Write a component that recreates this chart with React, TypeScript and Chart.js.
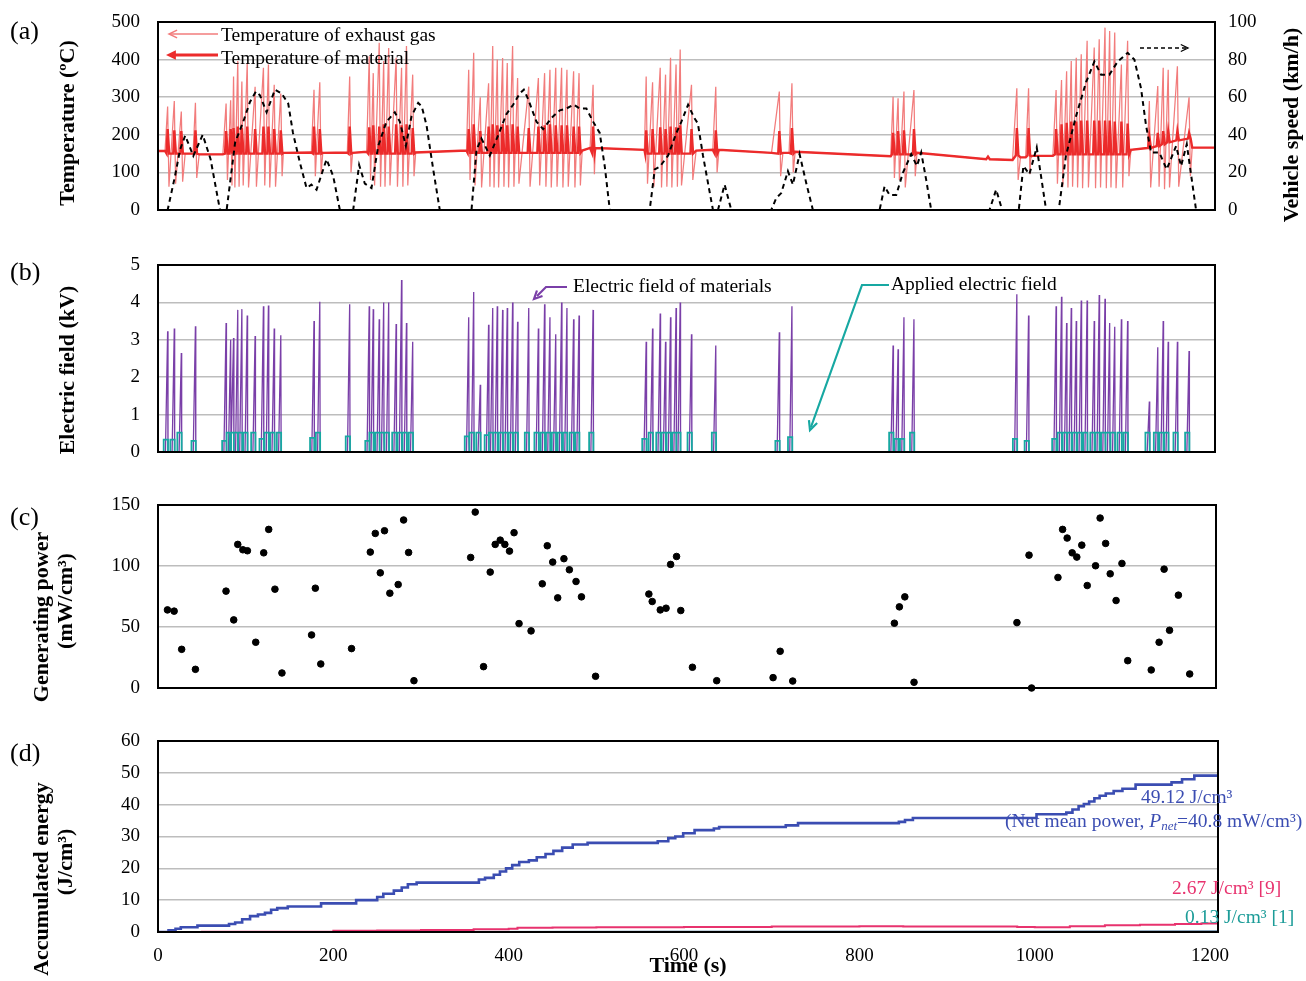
import React, { useEffect, useRef } from "react";
import { Chart, registerables } from "chart.js";
Chart.register(...registerables);

const SERIF = "'Liberation Serif', 'Times New Roman', Times, serif";
const TICK_FONT = { family: SERIF, size: 19 };
const TITLE_FONT = { family: SERIF, size: 22, weight: "bold" as const, lineHeight: 1.2 };
const GRID = "#bdbdbd";
const ANN = 19.5;

// ---------------- panel (a) ----------------
const spikeTimes = [
  11, 18.6, 26.6, 42.7,
  77.7, 82.9, 86.2, 91, 95.7, 101.8, 110.8, 120.3, 126, 132.6, 140.1,
  178, 184.6, 218.7,
  241, 245.6, 252.4, 257.5, 263.2, 271.7, 277.9, 283.5, 290.6,
  354.5, 360.2, 367.7, 377.2, 381.9, 387.1, 393.2, 398.5, 404.6, 410.3, 423, 434, 441.1, 447.2, 453.8, 460.5, 466.6, 474.2, 480.4, 496.4,
  557, 564.3, 573, 579.1, 584.8, 591.1, 595.8, 608.7, 636.4,
  708.9, 723.3,
  838.7, 844.4, 851.1, 862.5,
  979.9, 993.3,
  1024.7, 1030.9, 1036.7, 1042, 1047.7, 1053.4, 1060.1, 1068.2, 1073.9, 1080.5, 1085.8, 1091.6, 1099.2, 1106.3,
  1131.1, 1140.7, 1146.9, 1152.6, 1163.1, 1176.4,
];
const exhaustPeaks = [
  275, 290, 262, 285,
  283, 292, 355, 396, 342, 391, 328, 378, 387, 333, 310,
  320, 340, 355,
  409, 364, 445, 396, 431, 405, 378, 436, 360,
  373, 418, 300, 337, 436, 400, 404, 391, 436, 351, 328, 351, 364, 373, 378, 378, 373, 369, 364, 333,
  355, 340, 378, 360, 405, 387, 427, 333, 328,
  315, 337,
  301, 297, 315, 319,
  324, 324,
  319, 346, 369, 396, 405, 414, 450, 432, 454, 485, 476, 472, 387, 450,
  290, 330, 378, 373, 382, 300,
];
const exhaustLows = [
  62, 70, 75, 85,
  80, 65, 60, 62, 65, 60, 62, 65, 60, 62, 90,
  90, 95, 100,
  80, 65, 62, 62, 65, 62, 62, 65, 90,
  80, 65, 60, 62, 60, 60, 62, 60, 62, 70, 62, 65, 62, 60, 62, 60, 62, 60, 65, 95,
  70, 62, 60, 62, 60, 62, 65, 80, 100,
  90, 100,
  85, 80, 60, 90,
  80, 95,
  70, 62, 60, 62, 60, 58, 60, 58, 60, 58, 60, 58, 60, 90,
  60, 62, 55, 60, 62, 90,
];
const materialPeaks = [
  215, 212, 210, 212,
  210, 215, 218, 222, 218, 222, 215, 222, 222, 215, 212,
  222, 215, 222,
  220, 225, 222, 228, 222, 228, 225, 228, 218,
  215, 228, 210, 222, 228, 225, 228, 225, 228, 222, 218, 222, 225, 228, 225, 225, 225, 222, 222, 222,
  212, 215, 220, 215, 222, 220, 225, 215, 212,
  210, 218,
  205, 210, 212, 215,
  218, 218,
  215, 228, 232, 235, 235, 238, 238, 238, 238, 238, 238, 235, 235, 230,
  195, 205, 210, 210, 210, 205,
];
const materialTroughs = [
  150, 150, 150, 150,
  150, 150, 150, 150, 150, 150, 150, 150, 150, 150, 150,
  150, 150, 150,
  150, 150, 150, 150, 150, 150, 150, 150, 150,
  152, 152, 152, 152, 152, 152, 152, 152, 152, 152, 152, 152, 152, 152, 152, 152, 152, 152, 152, 152,
  150, 150, 150, 150, 150, 150, 150, 150, 150,
  150, 150,
  148, 148, 148, 148,
  145, 145,
  148, 148, 148, 148, 148, 148, 148, 148, 148, 148, 148, 148, 148, 148,
  165, 170, 175, 180, 185, 190,
];
const baseTimes = [0, 8, 31, 40, 47, 74, 143, 175, 188, 216, 222, 238, 294, 352, 484, 493, 499, 555, 614, 633, 640, 700, 713, 720, 727, 836, 866, 945, 947, 949, 975, 984, 990, 996, 1021, 1110, 1129, 1180, 1206];
const baseTemps = [157, 157, 150, 150, 148, 148, 152, 153, 152, 153, 152, 155, 153, 158, 158, 165, 165, 160, 158, 160, 160, 152, 152, 152, 155, 143, 152, 135, 142, 135, 133, 140, 140, 144, 144, 160, 165, 166, 166];
const speedTimes = [
  0, 11, 19.4, 25.1, 31, 40.3, 51, 60, 70.7, 78.3, 88, 97.3, 104.9, 111.7, 116.3, 123.9, 133.4, 141, 148.6, 154, 162, 169.5, 175, 180.9, 192.3, 199.9, 207.5,
  222.7, 229.5, 236, 243.6, 251.2, 260.7, 270.2, 275.9, 282.8, 289.3, 296.9, 301, 306.4, 314, 321.5,
  357.7, 363.4, 369, 378.6, 388, 397.5, 405.2, 412.8, 417.4, 422.3, 431.8, 439.4, 448.9, 458.4, 466, 474.4, 481.2, 488.8, 496.4, 504, 509.8, 515.5,
  561, 566.8, 572.5, 582, 591.5, 597.2, 604.8, 612.3, 616, 621.8, 627.5, 633.2, 638.9, 646.5, 654.1,
  699.7, 705.4, 711.1, 718.7, 724.4, 732, 739.6, 747.2,
  823.3, 829, 834.7, 842.3, 849.9, 859.4, 865.9, 870.8, 876.5, 882.2,
  948.7, 956.3, 963.2, 982.1, 987.4, 994.2, 1002.6, 1013.3,
  1027.7, 1036, 1047.5, 1058.9, 1068.4, 1076, 1085.5, 1095, 1106.4, 1114, 1121.6, 1127.3, 1133, 1142.5, 1150.9, 1161.6, 1167.3, 1173.8, 1184.4, 1206,
];
const speedValues = [
  0, 0, 18, 32, 39.6, 28.8, 40, 27, 0, 0, 36, 47, 57.5, 63, 61, 52, 64, 62, 56.6, 41, 25, 11.7, 13.5, 10.8, 27, 18, 0,
  0, 24, 14, 11.7, 34, 47, 52, 47, 34, 50, 57, 55, 45, 21.6, 0,
  0, 32, 38, 29, 39.6, 51, 56, 62, 64, 59, 47, 43, 49, 53, 54, 56, 54, 54, 47, 41, 23, 0,
  0, 21.6, 23, 29, 41, 47, 56, 48.6, 46, 29, 14.4, 0, 0, 13.5, 0,
  0, 6.3, 9, 20.7, 13.5, 29.7, 14.4, 0,
  0, 12.6, 8, 8, 19.8, 29.7, 23.4, 30.6, 16, 0,
  0, 10.8, 0, 0, 23.4, 19, 33.3, 0,
  0, 29, 50, 68, 79, 72, 72, 79, 83.6, 80, 64.7, 45, 30.6, 30.6, 21.6, 34, 23.4, 35, 0, 0,
];

// ---------------- panel (b) ----------------
const fieldPeaks = [
  3.23, 3.3, 2.65, 3.36,
  3.45, 3.0, 3.05, 3.8, 3.82, 3.65, 3.1, 3.9, 3.92, 3.3, 3.12,
  3.5, 4.02, 3.95,
  3.9, 3.82, 3.55, 4.0, 4.0, 3.42, 4.6, 3.45, 2.95,
  3.6, 4.28, 1.8, 3.4, 3.85, 3.9, 3.8, 3.85, 4.0, 3.48, 3.85, 3.3, 3.95, 3.6, 3.15, 4.0, 3.85, 3.55, 3.65, 3.8,
  2.95, 3.3, 3.7, 2.95, 3.6, 3.85, 4.0, 3.15, 2.85,
  3.2, 3.9,
  2.85, 2.75, 3.6, 3.55,
  4.22, 3.65,
  3.9, 4.15, 3.45, 3.85, 3.5, 4.05, 4.05, 3.5, 4.2, 4.1, 3.45, 3.35, 3.55, 3.5,
  1.35, 2.8, 3.5, 2.95, 2.95, 2.7,
];
const appliedLevels = [
  0.33, 0.33, 0.52, 0.3,
  0.3, 0.52, 0.52, 0.52, 0.52, 0.52, 0.52, 0.35, 0.52, 0.52, 0.52,
  0.38, 0.52, 0.42,
  0.3, 0.52, 0.52, 0.52, 0.52, 0.52, 0.52, 0.52, 0.52,
  0.42, 0.52, 0.52, 0.45, 0.52, 0.52, 0.52, 0.52, 0.52, 0.52, 0.52, 0.52, 0.52, 0.52, 0.52, 0.52, 0.52, 0.52, 0.52, 0.52,
  0.35, 0.52, 0.52, 0.52, 0.52, 0.52, 0.52, 0.52, 0.52,
  0.3, 0.4,
  0.52, 0.35, 0.35, 0.52,
  0.35, 0.3,
  0.35, 0.52, 0.52, 0.52, 0.52, 0.52, 0.52, 0.52, 0.52, 0.52, 0.52, 0.52, 0.52, 0.52,
  0.52, 0.52, 0.52, 0.52, 0.52, 0.52,
];

// ---------------- panel (c) ----------------
const powerTimes = [10.8, 18.4, 27, 42.7, 77.6, 86.4, 91, 96.8, 102, 111.5, 120.6, 126.3, 133.4, 141.4, 175.2, 179.5, 185.7, 220.8, 242.2, 247.9, 253.6, 258.4, 264.5, 274, 280.2, 285.9, 292, 356.7, 361.9, 371.4, 379, 384.7, 390.4, 395.7, 401, 406.2, 411.9, 425.6, 438.4, 444.1, 450.3, 456, 463.1, 469.3, 476.9, 483.1, 499.2, 560, 563.8, 573, 579.6, 584.8, 591.6, 596.4, 609.7, 637.4, 701.7, 709.8, 724.1, 840.1, 845.8, 852, 862.5, 979.9, 993.7, 996.6, 1026.7, 1032, 1037.2, 1042.9, 1048.2, 1053.9, 1060.1, 1069.6, 1074.8, 1081.1, 1086.3, 1093, 1099.7, 1106.3, 1133.1, 1142.1, 1147.8, 1154, 1164.1, 1177];
const powerValues = [64, 63, 31.7, 15.3, 79.4, 55.8, 117.7, 113.3, 112.5, 37.5, 110.8, 130, 81, 12.3, 43.5, 81.8, 19.7, 32.3, 111.4, 126.7, 94.4, 128.9, 77.7, 84.8, 137.7, 111.1, 6, 107, 144.2, 17.5, 95, 117.7, 121.2, 117.7, 112.2, 127.3, 52.8, 46.8, 85.4, 116.6, 103.2, 73.9, 106, 96.9, 87.3, 74.7, 9.6, 77, 70.9, 64, 65.4, 101.3, 107.8, 63.5, 17, 6, 8.5, 30.1, 5.7, 53.1, 66.5, 74.7, 4.7, 53.6, 108.9, 0, 90.6, 130, 122.9, 110.8, 107.3, 117.1, 84, 100.2, 139.3, 118.5, 93.6, 71.7, 102.1, 22.4, 14.8, 37.5, 97.4, 47.3, 76.1, 11.5];

// ---------------- panel (d) ----------------
const timeTicks = [0, 200, 400, 600, 800, 1000, 1200];
const energyTimes = [0, 10, 12, 20, 26, 45, 81, 88, 96, 105, 114, 122, 129, 136, 148, 186, 226, 250, 257, 269, 278, 285, 295, 366, 373, 383, 390, 397, 404, 412, 423, 432, 442, 451, 461, 473, 490, 570, 582, 590, 599, 612, 634, 640, 716, 730, 845, 852, 861, 1002, 1036, 1043, 1050, 1056, 1062, 1068, 1074, 1081, 1090, 1100, 1115, 1156, 1168, 1182, 1209];
const energyValues = [0, 0, 0.5, 1, 1.5, 2, 2.5, 3, 4, 5, 5.5, 6, 7, 7.5, 8, 9, 10, 11, 12, 13, 14, 15, 15.5, 16.5, 17, 18, 19, 20, 21, 22, 22.5, 23.5, 24.5, 25.5, 26.5, 27.5, 28, 28.5, 29.5, 30, 31, 32, 32.5, 33, 33.5, 34.2, 34.6, 35.2, 35.8, 37, 37.5, 38.5, 39.5, 40.2, 41, 42, 42.8, 43.5, 44.3, 45, 46.3, 47, 48, 49.12, 49.12];
const ref9Times = [0, 50, 200, 250, 300, 360, 400, 410, 450, 500, 560, 600, 700, 800, 850, 980, 1000, 1040, 1080, 1120, 1160, 1190, 1209];
const ref9Values = [0, 0.1, 0.4, 0.5, 0.6, 0.9, 1.0, 1.3, 1.4, 1.5, 1.5, 1.6, 1.7, 1.8, 1.7, 1.6, 1.5, 1.8, 2.1, 2.3, 2.5, 2.67, 2.67];
const ref1Times = [0, 300, 600, 900, 1209];
const ref1Values = [0, 0.03, 0.05, 0.08, 0.13];

type P = { x: number; y: number };
const pts = (xs: number[], ys: number[]): P[] => xs.map((x, i) => ({ x, y: ys[i] }));
const byX = (a: P, b: P) => a.x - b.x;

function materialSeries(): P[] {
  const out = pts(baseTimes, baseTemps);
  spikeTimes.forEach((t, i) => {
    out.push({ x: t - 1.2, y: materialTroughs[i] }, { x: t, y: materialPeaks[i] }, { x: t + 1.8, y: materialTroughs[i] });
  });
  return out.sort(byX);
}
function exhaustSeries(): P[] {
  const out = pts(baseTimes, baseTemps);
  spikeTimes.forEach((t, i) => {
    out.push({ x: t, y: exhaustPeaks[i] }, { x: t + 1.5, y: exhaustLows[i] });
  });
  return out.sort(byX);
}
function fieldSeries(xMax: number): P[] {
  const out: P[] = [{ x: 0, y: 0 }];
  spikeTimes.forEach((t, i) => {
    out.push({ x: t - 2.5, y: 0 }, { x: t, y: fieldPeaks[i] }, { x: t + 0.4, y: 0 });
  });
  out.push({ x: xMax, y: 0 });
  return out;
}
function appliedSeries(xMax: number): P[] {
  const out: P[] = [{ x: 0, y: 0 }];
  spikeTimes.forEach((t, i) => {
    const l = appliedLevels[i];
    out.push({ x: t - 4.5, y: 0 }, { x: t - 4.5, y: l }, { x: t + 0.4, y: l }, { x: t + 0.4, y: 0 });
  });
  out.push({ x: xMax, y: 0 });
  return out;
}

function head(ctx: CanvasRenderingContext2D, x: number, y: number, ang: number, size: number, fill: boolean) {
  const a1 = ang + Math.PI - 0.45;
  const a2 = ang + Math.PI + 0.45;
  ctx.beginPath();
  ctx.moveTo(x + size * Math.cos(a1), y + size * Math.sin(a1));
  ctx.lineTo(x, y);
  ctx.lineTo(x + size * Math.cos(a2), y + size * Math.sin(a2));
  if (fill) {
    ctx.closePath();
    ctx.fill();
  } else ctx.stroke();
}

function frame(chart: any) {
  const { ctx, chartArea: ca } = chart;
  ctx.save();
  ctx.strokeStyle = "#000";
  ctx.lineWidth = 2;
  ctx.setLineDash([]);
  ctx.strokeRect(ca.left, ca.top, ca.right - ca.left, ca.bottom - ca.top);
  ctx.restore();
}

function text(ctx: CanvasRenderingContext2D, s: string, x: number, y: number, color = "#000", size = ANN, style = "") {
  ctx.font = `${style} ${size}px ${SERIF}`;
  ctx.fillStyle = color;
  ctx.textBaseline = "middle";
  ctx.textAlign = "left";
  ctx.fillText(s, x, y);
  return ctx.measureText(s).width;
}

// vertical axis title lines: [text, x, y]
function vTitle(ctx: CanvasRenderingContext2D, lines: [string, number, number][]) {
  ctx.save();
  ctx.font = `bold ${TITLE_FONT.size}px ${SERIF}`;
  ctx.fillStyle = "#000";
  ctx.textAlign = "center";
  ctx.textBaseline = "middle";
  lines.forEach(([s, x, y]) => {
    ctx.save();
    ctx.translate(x, y);
    ctx.rotate(-Math.PI / 2);
    ctx.fillText(s, 0, 0);
    ctx.restore();
  });
  ctx.restore();
}

function leftAxis(min: number, max: number, step: number) {
  return {
    position: "left" as const,
    min,
    max,
    ticks: { stepSize: step, font: TICK_FONT, color: "#000", padding: 18 },
    grid: { color: GRID, lineWidth: 1.5, drawTicks: false },
    border: { display: false },
    afterFit: (s: any) => {
      s.width = 158;
      s.paddingTop = 0;
      s.paddingBottom = 0;
    },
  };
}
const hiddenX = (max: number) => ({ type: "linear" as const, min: 0, max, display: false });

function makeA(canvas: HTMLCanvasElement) {
  return new Chart(canvas, {
    type: "line",
    data: {
      datasets: [
        { data: pts(speedTimes, speedValues), yAxisID: "y2", borderColor: "#000", borderWidth: 2, borderDash: [5, 4], pointRadius: 0, tension: 0, order: 0 },
        { data: materialSeries(), borderColor: "#ec2b2b", borderWidth: 2.4, pointRadius: 0, tension: 0, order: 1 },
        { data: exhaustSeries(), borderColor: "#f27c7c", borderWidth: 1.25, pointRadius: 0, tension: 0, order: 2 },
      ],
    },
    options: {
      animation: false,
      responsive: false,
      layout: { padding: { top: 22, bottom: 30, left: 0, right: 0 } },
      plugins: { legend: { display: false }, tooltip: { enabled: false } },
      scales: {
        x: hiddenX(1206),
        y: leftAxis(0, 500, 100),
        y2: {
          position: "right",
          min: 0,
          max: 100,
          ticks: { stepSize: 20, font: TICK_FONT, color: "#000", padding: 13 },
          grid: { display: false, drawTicks: false },
          border: { display: false },
          afterFit: (s: any) => {
            s.width = 91;
            s.paddingTop = 0;
            s.paddingBottom = 0;
          },
        },
      },
    },
    plugins: [
      {
        id: "decoA",
        afterDatasetsDraw(chart: any) {
          const ctx = chart.ctx as CanvasRenderingContext2D;
          const ca = chart.chartArea;
          frame(chart);
          ctx.save();
          const x0 = ca.left;
          ctx.strokeStyle = "#f27c7c";
          ctx.lineWidth = 1.5;
          ctx.beginPath();
          ctx.moveTo(x0 + 12, ca.top + 12);
          ctx.lineTo(x0 + 60, ca.top + 12);
          ctx.stroke();
          head(ctx, x0 + 11, ca.top + 12, Math.PI, 9, false);
          text(ctx, "Temperature of exhaust gas", x0 + 63, ca.top + 14);
          ctx.strokeStyle = "#ec2b2b";
          ctx.fillStyle = "#ec2b2b";
          ctx.lineWidth = 3;
          ctx.beginPath();
          ctx.moveTo(x0 + 16, ca.top + 33);
          ctx.lineTo(x0 + 60, ca.top + 33);
          ctx.stroke();
          head(ctx, x0 + 8, ca.top + 33, Math.PI, 11, true);
          text(ctx, "Temperature of material", x0 + 63, ca.top + 37);
          ctx.strokeStyle = "#000";
          ctx.lineWidth = 1.3;
          ctx.setLineDash([4, 3]);
          ctx.beginPath();
          ctx.moveTo(ca.right - 75, ca.top + 26);
          ctx.lineTo(ca.right - 29, ca.top + 26);
          ctx.stroke();
          ctx.setLineDash([]);
          head(ctx, ca.right - 27, ca.top + 26, 0, 8, false);
          ctx.restore();
          vTitle(ctx, [["Temperature (ºC)", 68, 123]]);
          vTitle(ctx, [["Vehicle speed (km/h)", 1292, 125]]);
        },
      },
    ],
  } as any);
}

function makeB(canvas: HTMLCanvasElement) {
  const xMax = 1206;
  return new Chart(canvas, {
    type: "line",
    data: {
      datasets: [
        { data: appliedSeries(xMax), borderColor: "#17a8a2", borderWidth: 1.8, pointRadius: 0, tension: 0, order: 0 },
        { data: fieldSeries(xMax), borderColor: "#7a3fa8", borderWidth: 1.3, pointRadius: 0, tension: 0, order: 1 },
      ],
    },
    options: {
      animation: false,
      responsive: false,
      layout: { padding: { top: 22, bottom: 13, left: 0, right: 91 } },
      plugins: { legend: { display: false }, tooltip: { enabled: false } },
      scales: { x: hiddenX(xMax), y: leftAxis(0, 5, 1) },
    },
    plugins: [
      {
        id: "decoB",
        afterDatasetsDraw(chart: any) {
          const ctx = chart.ctx as CanvasRenderingContext2D;
          const ca = chart.chartArea;
          frame(chart);
          ctx.save();
          const ty = ca.top + 22;
          ctx.strokeStyle = "#7a3fa8";
          ctx.fillStyle = "#7a3fa8";
          ctx.lineWidth = 2.2;
          ctx.beginPath();
          ctx.moveTo(567, ty);
          ctx.lineTo(546, ty);
          ctx.lineTo(537, ty + 9);
          ctx.stroke();
          head(ctx, 534, ty + 12, (3 * Math.PI) / 4, 9, false);
          text(ctx, "Electric field of materials", 573, ty);
          ctx.strokeStyle = "#17a8a2";
          ctx.lineWidth = 2.2;
          ctx.beginPath();
          ctx.moveTo(889, ty - 2);
          ctx.lineTo(862, ty - 2);
          ctx.lineTo(811, ty + 140);
          ctx.stroke();
          head(ctx, 810, ty + 143, Math.atan2(142, -51), 10, false);
          text(ctx, "Applied electric field", 891, ty - 2);
          ctx.restore();
          vTitle(ctx, [["Electric field (kV)", 68, 127]]);
        },
      },
    ],
  } as any);
}

function makeC(canvas: HTMLCanvasElement) {
  return new Chart(canvas, {
    type: "scatter",
    data: {
      datasets: [
        { data: pts(powerTimes, powerValues), backgroundColor: "#000", borderColor: "#000", pointRadius: 3.3, showLine: false, clip: false },
      ],
    },
    options: {
      animation: false,
      responsive: false,
      layout: { padding: { top: 22, bottom: 15, left: 0, right: 90 } },
      plugins: { legend: { display: false }, tooltip: { enabled: false } },
      scales: { x: hiddenX(1207), y: leftAxis(0, 150, 50) },
    },
    plugins: [
      {
        id: "decoC",
        afterDatasetsDraw(chart: any) {
          frame(chart);
          vTitle(chart.ctx, [
            ["Generating power", 42, 134],
            ["(mW/cm³)", 66, 118],
          ]);
        },
      },
    ],
  } as any);
}

function makeD(canvas: HTMLCanvasElement) {
  const xMax = 1209;
  return new Chart(canvas, {
    type: "line",
    data: {
      datasets: [
        { data: pts(energyTimes, energyValues), borderColor: "#3b4db2", borderWidth: 2.6, pointRadius: 0, stepped: true, order: 0 },
        { data: pts(ref9Times, ref9Values), borderColor: "#e8326e", borderWidth: 2, pointRadius: 0, stepped: true, order: 1 },
        { data: pts(ref1Times, ref1Values), borderColor: "#1d4f7c", borderWidth: 2, pointRadius: 0, tension: 0, order: 2 },
      ],
    },
    options: {
      animation: false,
      responsive: false,
      layout: { padding: { top: 22, bottom: 1, left: 0, right: 88 } },
      plugins: { legend: { display: false }, tooltip: { enabled: false } },
      scales: {
        x: {
          type: "linear",
          position: "bottom",
          min: 0,
          max: xMax,
          afterBuildTicks: (s: any) => {
            s.ticks = timeTicks.map((value) => ({ value }));
          },
          ticks: { font: TICK_FONT, color: "#000", padding: 13, maxRotation: 0, autoSkip: false, callback: (v: any) => String(v) },
          grid: { display: false, drawTicks: false },
          border: { display: false },
          title: { display: true, text: "Time (s)", font: TITLE_FONT, color: "#000", padding: { top: 0, bottom: 0 } },
          afterFit: (s: any) => {
            s.height = 48;
          },
        },
        y: leftAxis(0, 60, 10),
      },
    },
    plugins: [
      {
        id: "decoD",
        afterDatasetsDraw(chart: any) {
          const ctx = chart.ctx as CanvasRenderingContext2D;
          const ca = chart.chartArea;
          frame(chart);
          const top = ca.top;
          vTitle(ctx, [
            ["Accumulated energy", 42, top + 138],
            ["(J/cm³)", 66, top + 121],
          ]);
          ctx.save();
          const blue = "#3b4db2";
          text(ctx, "49.12 J/cm³", 1141, top + 57, blue);
          let x = 1005;
          x += text(ctx, "(Net mean power, ", x, top + 81, blue);
          x += text(ctx, "P", x, top + 81, blue, ANN, "italic");
          x += text(ctx, "net", x, top + 86, blue, 13, "italic");
          text(ctx, "=40.8 mW/cm³)", x, top + 81, blue);
          text(ctx, "2.67 J/cm³ [9]", 1172, top + 148, "#e8326e");
          text(ctx, "0.13 J/cm³ [1]", 1185, top + 177, "#1c9c98");
          ctx.restore();
        },
      },
    ],
  } as any);
}

const label = (s: string, top: number) => (
  <div style={{ position: "absolute", left: 10, top, fontSize: 26, lineHeight: "30px", fontFamily: SERIF, color: "#000" }}>{s}</div>
);

export default function App() {
  const refA = useRef<HTMLCanvasElement>(null);
  const refB = useRef<HTMLCanvasElement>(null);
  const refC = useRef<HTMLCanvasElement>(null);
  const refD = useRef<HTMLCanvasElement>(null);
  useEffect(() => {
    const charts = [makeA(refA.current!), makeB(refB.current!), makeC(refC.current!), makeD(refD.current!)];
    return () => charts.forEach((c) => c.destroy());
  }, []);
  const cs = (top: number, h: number): React.CSSProperties => ({ position: "absolute", left: 0, top, width: 1306, height: h });
  return (
    <div style={{ position: "absolute", left: 0, top: 0, width: 1306, height: 981, background: "#fff", overflow: "hidden" }}>
      <canvas ref={refA} width={1306} height={240} style={cs(0, 240)} />
      <canvas ref={refB} width={1306} height={222} style={cs(243, 222)} />
      <canvas ref={refC} width={1306} height={220} style={cs(483, 220)} />
      <canvas ref={refD} width={1306} height={262} style={cs(719, 262)} />
      {label("(a)", 16)}
      {label("(b)", 257)}
      {label("(c)", 502)}
      {label("(d)", 738)}
    </div>
  );
}
